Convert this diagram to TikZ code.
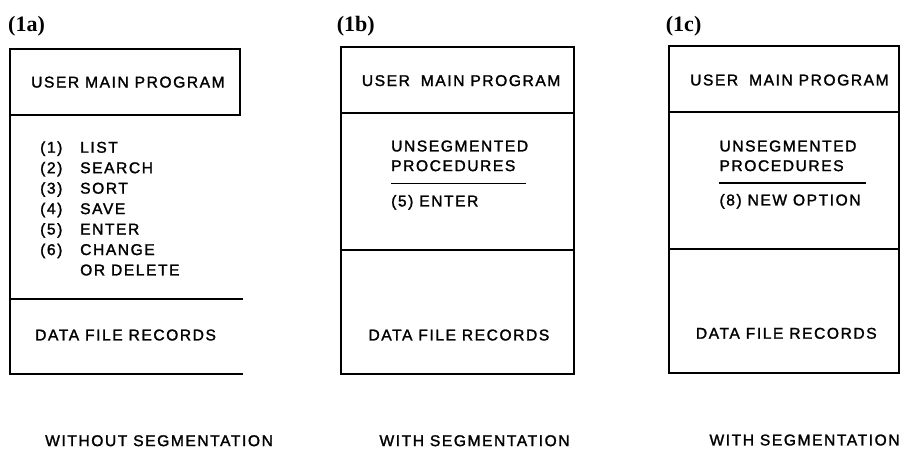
\documentclass[tikz,border=0pt]{standalone}
\usepackage{fontspec}
\newfontfamily\lett[LetterSpace=10,FakeBold=1.6]{Liberation Sans}
\newfontfamily\labfont{Liberation Serif}
\begin{document}
\begin{tikzpicture}[x=1pt,y=-1pt,
  txt/.style={font=\lett\fontsize{15.6}{18}\selectfont, inner sep=0pt, anchor=base west},
  lbl/.style={font=\labfont\bfseries\fontsize{22}{24}\selectfont, inner sep=0pt, anchor=base west},
  thickline/.style={line width=2.4pt},
  thinline/.style={line width=1.8pt},
  rulestyle/.style={line width=1.4pt}]
\useasboundingbox (0,0) rectangle (901,448);
\fill[white] (0,0) rectangle (901,448);

% ---------- panel a ----------
\node[lbl] (la) at (8,31) {(1a)};
\draw[thickline] (240,115) -- (240,49) -- (10,49) -- (10,374) -- (243,374);
\draw[thickline] (10,115) -- (241,115);
\draw[thickline] (10,299) -- (243,299);
\node[txt] (a-main) at (31,87.5) {USER MAIN PROGRAM};
\node[txt] (a-n1) at (40,152.7) {(1)};  \node[txt] (a-t1) at (80,152.7) {LIST};
\node[txt] (a-n2) at (40,173.2) {(2)};  \node[txt] (a-t2) at (80,173.2) {SEARCH};
\node[txt] (a-n3) at (40,193.6) {(3)};  \node[txt] (a-t3) at (80,193.6) {SORT};
\node[txt] (a-n4) at (40,214.1) {(4)};  \node[txt] (a-t4) at (80,214.1) {SAVE};
\node[txt] (a-n5) at (40,234.5) {(5)};  \node[txt] (a-t5) at (80,234.5) {ENTER};
\node[txt] (a-n6) at (40,255.0) {(6)};  \node[txt] (a-t6) at (80,255.0) {CHANGE};
\node[txt] (a-t7) at (80,275.4) {OR DELETE};
\node[txt] (a-data) at (35,340.4) {DATA FILE RECORDS};
\node[txt] (a-cap) at (45,446.1) {WITHOUT SEGMENTATION};

% ---------- panel b ----------
\node[lbl] (lb) at (336.7,31) {(1b)};
\draw[thinline] (341,47) rectangle (574,374);
\draw[thinline] (341,113) -- (574,113);
\draw[thinline] (341,250) -- (574,250);
\node[txt] (b-main) at (361.7,86) {USER\hspace{5pt} MAIN PROGRAM};
\node[txt] (b-u1) at (391,151.4) {UNSEGMENTED};
\node[txt] (b-u2) at (391,171.1) {PROCEDURES};
\coordinate (b-r1) at (391,183.3);
\coordinate (b-r2) at (526,183.3);
\draw[rulestyle] (b-r1) -- (b-r2);
\node[txt] (b-en) at (391,206.4) {(5) ENTER};
\node[txt] (b-data) at (368.3,340.4) {DATA FILE RECORDS};
\node[txt] (b-cap) at (379.3,446.1) {WITH SEGMENTATION};

% ---------- panel c ----------
\node[lbl] (lc) at (665.7,31) {(1c)};
\draw[thinline] (669,46) rectangle (899,373);
\draw[thinline] (669,112) -- (899,112);
\draw[thinline] (669,249) -- (899,249);
\node[txt] (c-main) at (690,85.4) {USER\hspace{5pt} MAIN PROGRAM};
\node[txt] (c-u1) at (719.3,151.4) {UNSEGMENTED};
\node[txt] (c-u2) at (719.3,171.1) {PROCEDURES};
\coordinate (c-r1) at (719,183);
\coordinate (c-r2) at (865.7,183);
\draw[rulestyle] (c-r1) -- (c-r2);
\node[txt] (c-en) at (719.3,205.4) {(8) NEW OPTION};
\node[txt] (c-data) at (695.7,338.7) {DATA FILE RECORDS};
\node[txt] (c-cap) at (709.3,445.4) {WITH SEGMENTATION};
\end{tikzpicture}
\end{document}
